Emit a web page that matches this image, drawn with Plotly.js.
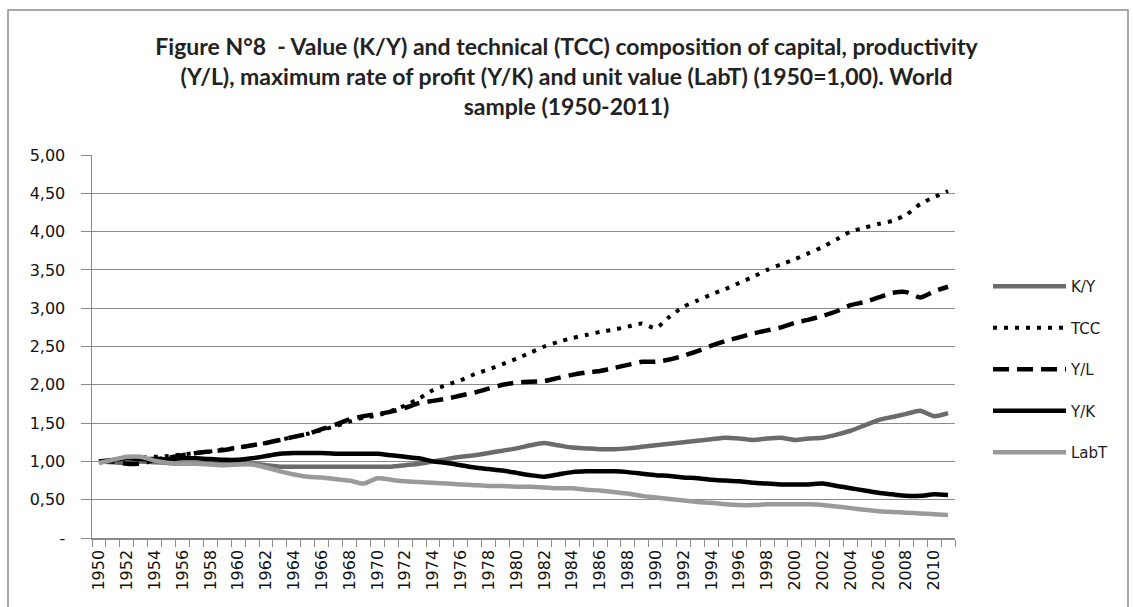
<!DOCTYPE html>
<html>
<head>
<meta charset="utf-8">
<script src="https://cdn.plot.ly/plotly-3.0.1.min.js"></script>
<style>
html,body{margin:0;padding:0;background:#fff;}
#chart{width:1133px;height:607px;}
</style>
</head>
<body>
<div id="chart"></div>
<script>
const years = ["1950","1951","1952","1953","1954","1955","1956","1957","1958","1959",
"1960","1961","1962","1963","1964","1965","1966","1967","1968","1969",
"1970","1971","1972","1973","1974","1975","1976","1977","1978","1979",
"1980","1981","1982","1983","1984","1985","1986","1987","1988","1989",
"1990","1991","1992","1993","1994","1995","1996","1997","1998","1999",
"2000","2001","2002","2003","2004","2005","2006","2007","2008","2009",
"2010","2011"];

const KY = [1.00,0.99,0.98,1.00,0.99,0.98,0.97,0.97,0.97,0.97,
0.97,0.97,0.95,0.93,0.93,0.93,0.93,0.93,0.93,0.93,
0.93,0.93,0.95,0.97,1.00,1.03,1.06,1.08,1.11,1.14,
1.17,1.21,1.24,1.21,1.18,1.17,1.16,1.16,1.17,1.19,
1.21,1.23,1.25,1.27,1.29,1.31,1.30,1.28,1.30,1.31,
1.28,1.30,1.31,1.35,1.40,1.47,1.54,1.58,1.62,1.66,
1.59,1.63];

const TCC = [1.00,1.02,1.04,1.05,1.06,1.07,1.09,1.11,1.13,1.16,
1.18,1.21,1.24,1.28,1.32,1.36,1.41,1.46,1.52,1.57,
1.60,1.66,1.73,1.82,1.93,2.00,2.06,2.14,2.20,2.27,
2.34,2.42,2.50,2.56,2.61,2.65,2.69,2.72,2.76,2.80,
2.74,2.89,3.02,3.10,3.18,3.25,3.33,3.41,3.50,3.57,
3.64,3.72,3.80,3.90,4.00,4.05,4.10,4.14,4.22,4.36,
4.45,4.53];

const YL = [1.00,1.00,0.97,0.97,1.02,1.05,1.08,1.11,1.13,1.15,
1.18,1.21,1.24,1.28,1.32,1.36,1.42,1.48,1.55,1.59,
1.62,1.65,1.70,1.76,1.79,1.82,1.86,1.90,1.95,2.00,
2.03,2.04,2.05,2.09,2.13,2.16,2.18,2.22,2.26,2.30,
2.30,2.33,2.38,2.44,2.51,2.57,2.62,2.67,2.71,2.75,
2.81,2.85,2.90,2.96,3.04,3.08,3.14,3.20,3.21,3.14,
3.22,3.28];

const YK = [1.00,1.02,1.04,1.03,1.03,1.03,1.04,1.04,1.03,1.02,
1.02,1.04,1.07,1.10,1.11,1.11,1.11,1.10,1.10,1.10,
1.10,1.08,1.06,1.04,1.00,0.98,0.95,0.92,0.90,0.88,
0.85,0.82,0.80,0.83,0.86,0.87,0.87,0.87,0.86,0.84,
0.82,0.81,0.79,0.78,0.76,0.75,0.74,0.72,0.71,0.70,
0.70,0.70,0.71,0.68,0.65,0.62,0.59,0.57,0.55,0.55,
0.57,0.56];

const LabT = [0.98,1.02,1.06,1.06,1.01,0.98,0.97,0.97,0.96,0.95,
0.96,0.96,0.92,0.87,0.83,0.80,0.79,0.77,0.75,0.71,
0.78,0.76,0.74,0.73,0.72,0.71,0.70,0.69,0.68,0.68,
0.67,0.67,0.66,0.65,0.65,0.63,0.62,0.60,0.58,0.55,
0.53,0.51,0.49,0.47,0.46,0.44,0.43,0.43,0.44,0.44,
0.44,0.44,0.43,0.41,0.39,0.37,0.35,0.34,0.33,0.32,
0.31,0.30];

const seriesNames = ["K/Y","TCC","Y/L","Y/K","LabT"];
const yTickVals = [0,0.5,1,1.5,2,2.5,3,3.5,4,4.5,5];
const yTickText = ["-","0,50","1,00","1,50","2,00","2,50","3,00","3,50","4,00","4,50","5,00"];
const xTickText = years.map((y,i)=> i%2===0 ? y : "");

const titleText = "Figure N°8  - Value (K/Y) and technical (TCC) composition of capital, productivity<br>(Y/L), maximum rate of profit (Y/K) and unit value (LabT) (1950=1,00). World<br>sample (1950-2011)";

function tr(name, y, color, width, dash){
  return {x: years, y: y, name: name, type: "scatter", mode: "lines",
    legendgroup: name,
    line: {color: color, width: width, dash: dash, shape: "spline", smoothing: 0.6}};
}

const data = [
  tr(seriesNames[0], KY, "#6b6b6b", 4.5, "solid"),
  tr(seriesNames[1], TCC, "#000000", 4, "4px,7px"),
  tr(seriesNames[2], YL, "#000000", 4.5, "16px,8px"),
  tr(seriesNames[3], YK, "#000000", 4.5, "solid"),
  tr(seriesNames[4], LabT, "#9a9a9a", 4.5, "solid")
];

const W = 863, H = 383, L = 92, T = 155;
const px = v => (v - L)/W;
const py = v => (T + H - v)/H;

const layout = {
  width: 1133, height: 607,
  margin: {l: L, r: 1133 - L - W, t: T, b: 607 - T - H, pad: 0},
  paper_bgcolor: "#ffffff", plot_bgcolor: "#ffffff",
  font: {family: "DejaVu Sans, sans-serif", color: "#1a1a1a"},
  title: {
    text: titleText,
    font: {family: "Lato, 'Open Sans', sans-serif", size: 23, weight: "bold", color: "#222"},
    x: 0.5, xref: "container", xanchor: "center",
    y: 1 - 55/607, yref: "container", yanchor: "middle"
  },
  showlegend: true,
  legend: {
    x: px(988), xanchor: "left", y: py(270), yanchor: "top",
    font: {family: "DejaVu Sans, sans-serif", size: 15, color: "#1a1a1a"},
    itemwidth: 73, tracegroupgap: 19, bgcolor: "rgba(0,0,0,0)", borderwidth: 0
  },
  xaxis: {
    type: "category", range: [-0.5, 61.5],
    tickmode: "array", tickvals: years, ticktext: xTickText,
    tickson: "boundaries", ticks: "outside", ticklen: 7, tickcolor: "#8a8a8a", tickwidth: 1,
    tickangle: -90, tickfont: {family: "DejaVu Sans, sans-serif", size: 16, color: "#111"},
    ticklabelstandoff: 4,
    showline: true, linecolor: "#8a8a8a", linewidth: 1.5,
    showgrid: false, zeroline: false, fixedrange: true
  },
  yaxis: {
    range: [0, 5], tickmode: "array", tickvals: yTickVals, ticktext: yTickText,
    ticks: "outside", ticklen: 10, tickcolor: "#8a8a8a", tickwidth: 1,
    tickfont: {family: "DejaVu Sans, sans-serif", size: 16, color: "#111"},
    ticklabelstandoff: 12,
    showline: true, linecolor: "#8a8a8a", linewidth: 1.5,
    showgrid: true, gridcolor: "#8a8a8a", gridwidth: 1,
    zeroline: false, fixedrange: true
  },
  shapes: [{
    type: "rect", xref: "paper", yref: "paper",
    x0: px(8), x1: px(1128), y0: py(620), y1: py(10),
    line: {color: "#8c8c8c", width: 1.5}, fillcolor: "rgba(0,0,0,0)", layer: "below"
  }]
};

Plotly.newPlot("chart", data, layout, {displayModeBar: false, staticPlot: true});
</script>
</body>
</html>
